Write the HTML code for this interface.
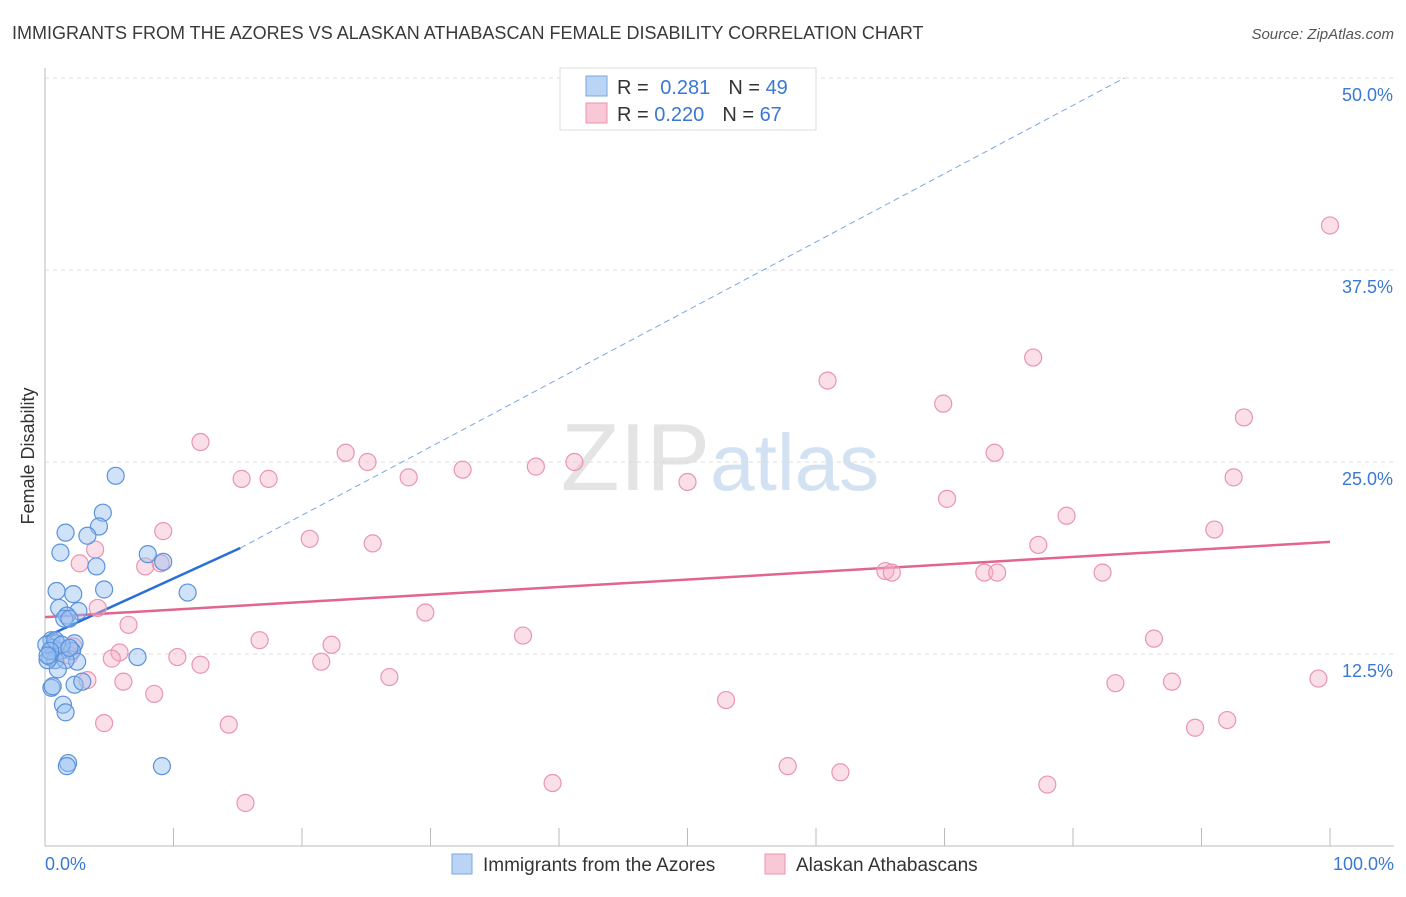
<!DOCTYPE html>
<html><head><meta charset="utf-8"><style>
body{margin:0;background:#fff;font-family:"Liberation Sans",sans-serif;}
svg text{font-family:"Liberation Sans",sans-serif;}
</style></head><body>
<svg id="chart" width="1406" height="892" xmlns="http://www.w3.org/2000/svg">
<text x="12" y="39" font-size="18" fill="#3a3a3a">IMMIGRANTS FROM THE AZORES VS ALASKAN ATHABASCAN FEMALE DISABILITY CORRELATION CHART</text>
<text x="1394" y="39" font-size="15" fill="#555" text-anchor="end" font-style="italic">Source: ZipAtlas.com</text>
<text x="720" y="490" font-size="96" fill="#e4e4e4" text-anchor="middle" font-family="Liberation Serif">ZIP<tspan fill="#d3e2f3" font-family="Liberation Sans" font-size="80">atlas</tspan></text>
<g id="grid"></g>
<g id="axes"></g>
<g id="trend"></g>
<g id="pts"></g>
<text transform="translate(34,456) rotate(-90)" font-size="18" fill="#333" text-anchor="middle">Female Disability</text>
<text x="45" y="870" font-size="18" fill="#3a78d4">0.0%</text>
<text x="1394" y="870" font-size="18" fill="#3a78d4" text-anchor="end">100.0%</text>
<g>
<rect x="560" y="68" width="256" height="62" fill="#fff" stroke="#ddd"/>
<rect x="586" y="76" width="21" height="20" fill="#b9d4f5" stroke="#7aa6e0"/>
<rect x="586" y="103" width="21" height="20" fill="#f9c8d6" stroke="#e995b0"/>
<text x="617" y="94" font-size="20" fill="#333">R = <tspan fill="#3a78d4" dx="6">0.281</tspan><tspan fill="#333" dx="18">N = </tspan><tspan fill="#3a78d4">49</tspan></text>
<text x="617" y="121" font-size="20" fill="#333">R = <tspan fill="#3a78d4">0.220</tspan><tspan fill="#333" dx="18">N = </tspan><tspan fill="#3a78d4">67</tspan></text>
</g>
<g><rect x="452" y="854" width="20" height="20" fill="#b9d4f5" stroke="#7aa6e0"/><text x="483" y="871" font-size="19" fill="#333">Immigrants from the Azores</text></g>
<g><rect x="765" y="854" width="20" height="20" fill="#f9c8d6" stroke="#e995b0"/><text x="796" y="871" font-size="19" fill="#333">Alaskan Athabascans</text></g>
</svg>
<script>
const yTicks=[12.5,25,37.5,50];
const yTickLabels=["12.5%","25.0%","37.5%","50.0%"];
const blueX=[5.5,4.5,4.2,1.6,3.3,1.2,8.0,9.2,4.0,0.9,4.6,2.2,11.1,1.1,2.6,1.7,1.5,1.9,0.5,0.9,2.3,0.6,1.2,2.1,0.4,0.8,2.5,1.6,7.2,1.0,0.5,0.6,2.3,2.9,1.4,1.6,1.8,1.7,9.1,0.2,0.1,0.8,1.3,1.9,0.4,0.2];
const blueY=[24.1,21.7,20.8,20.4,20.2,19.1,19.0,18.5,18.2,16.6,16.7,16.4,16.5,15.5,15.3,15.0,14.8,14.8,13.4,13.2,13.2,12.9,12.7,12.7,12.3,12.1,12.0,12.1,12.3,11.5,10.3,10.4,10.5,10.7,9.2,8.7,5.4,5.2,5.2,12.1,13.1,13.4,13.1,12.9,12.7,12.4];
const pinkX=[100,76.9,60.9,69.9,93.3,12.1,23.4,25.1,73.9,32.5,38.2,41.2,15.3,17.4,28.3,50.0,92.5,70.2,79.5,91.0,9.2,20.6,25.5,77.3,3.9,2.7,7.8,9.0,65.4,65.9,73.1,74.1,82.3,4.1,29.6,6.5,37.2,16.7,86.3,22.3,2.2,1.9,5.8,5.2,10.3,12.1,21.5,26.8,6.1,3.3,83.3,87.7,99.1,8.5,53.0,4.6,14.3,92.0,89.5,57.8,61.9,39.5,78.0,15.6];
const pinkY=[40.4,31.8,30.3,28.8,27.9,26.3,25.6,25.0,25.6,24.5,24.7,25.0,23.9,23.9,24.0,23.7,24.0,22.6,21.5,20.6,20.5,20.0,19.7,19.6,19.3,18.4,18.2,18.4,17.9,17.8,17.8,17.8,17.8,15.5,15.2,14.4,13.7,13.4,13.5,13.1,13.0,12.4,12.6,12.2,12.3,11.8,12.0,11.0,10.7,10.8,10.6,10.7,10.9,9.9,9.5,8.0,7.9,8.2,7.7,5.2,4.8,4.1,4.0,2.8];
const blueTrend=[0,13.6,15.2,19.4,84,50];
const pinkTrend=[0,14.9,100,19.8];
const X0=45,X1=1330,Y0=846,PY=15.36;
const xs=v=>X0+(X1-X0)*v/100, ys=v=>Y0-v*PY;
const NS="http://www.w3.org/2000/svg";
function mk(t,a,p){const e=document.createElementNS(NS,t);for(const k in a)e.setAttribute(k,a[k]);p.appendChild(e);return e;}
const grid=document.getElementById('grid'),axes=document.getElementById('axes');
yTicks.forEach((t,i)=>{
 const l=mk('line',{x1:X0,x2:1394,y1:ys(t),y2:ys(t),stroke:'#ddd','stroke-dasharray':'4,4'},grid);
 
 
 const tx=mk('text',{x:1393,y:ys(t)+23,'font-size':18,fill:'#3a78d4','text-anchor':'end'},axes);
 tx.textContent=yTickLabels[i];
 
 
});
mk('line',{x1:X0,x2:X0,y1:68,y2:Y0,stroke:'#bbb'},axes);
mk('line',{x1:X0,x2:1394,y1:Y0,y2:Y0,stroke:'#bbb'},axes);
for(let i=0;i<=10;i++){const t=mk('line',{x1:xs(i*10),x2:xs(i*10),y1:Y0,y2:Y0-18,stroke:'#bbb'},axes);
 
 }
const tr=document.getElementById('trend');
let b=mk('line',{x1:xs(blueTrend[0]),y1:ys(blueTrend[1]),x2:xs(blueTrend[2]),y2:ys(blueTrend[3]),stroke:'#2a6fd6','stroke-width':2.5},tr);


let bd=mk('line',{x1:xs(blueTrend[2]),y1:ys(blueTrend[3]),x2:xs(blueTrend[4]),y2:ys(blueTrend[5]),stroke:'#7aa6e0','stroke-width':1,'stroke-dasharray':'6,4'},tr);


let p=mk('line',{x1:xs(pinkTrend[0]),y1:ys(pinkTrend[1]),x2:xs(pinkTrend[2]),y2:ys(pinkTrend[3]),stroke:'#e2648f','stroke-width':2.5},tr);


const pts=document.getElementById('pts');
pinkX.forEach((v,i)=>{const c=mk('circle',{cx:xs(v),cy:ys(pinkY[i]),r:8.5,fill:'rgba(246,175,198,0.4)',stroke:'#e995b0','stroke-width':1.2},pts);
 
 });
blueX.forEach((v,i)=>{const c=mk('circle',{cx:xs(v),cy:ys(blueY[i]),r:8.5,fill:'rgba(150,190,240,0.45)',stroke:'#5b92dd','stroke-width':1.2},pts);
 
 });
</script>
</body></html>
